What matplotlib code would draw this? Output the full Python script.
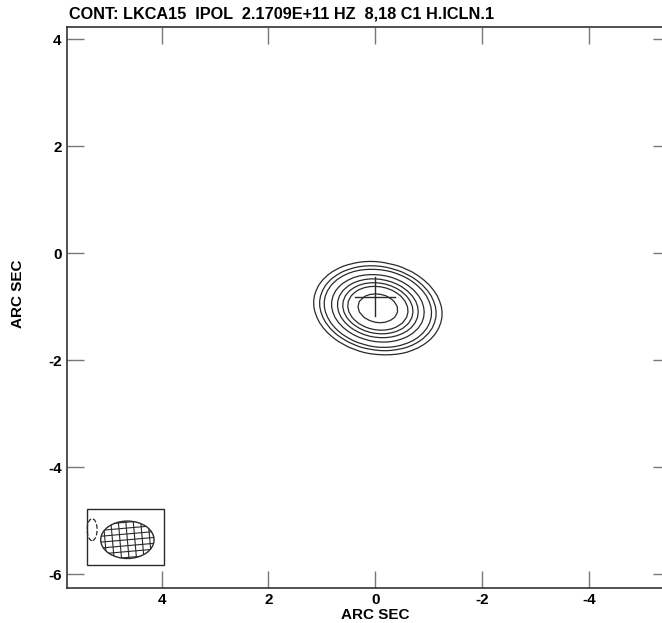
import numpy as np
import matplotlib
matplotlib.use("Agg")
import matplotlib.pyplot as plt
from matplotlib.patches import Ellipse, Rectangle

plt.rcParams['font.family'] = ['Liberation Sans', 'DejaVu Sans']
plt.rcParams['axes.unicode_minus'] = False

# ---- data ----
title = "CONT: LKCA15  IPOL  2.1709E+11 HZ  8,18 C1 H.ICLN.1"
x_ticks = [4, 2, 0, -2, -4]
y_ticks = [4, 2, 0, -2, -4, -6]
x_limits = [5.765, -5.52]
y_limits = [-6.256, 4.236]

# source model (elliptical Gaussian) in arcsec
src_x0, src_y0 = -0.05, -1.03
src_sig_maj, src_sig_min = 0.563, 0.400
src_theta_deg = 10.0
src_peak = 10.0
pos_levels = [1, 1.5, 2, 3, 4, 5, 6, 8]
neg_levels = [-1]

# small negative noise feature near the beam box
neg_x0, neg_y0 = 5.30, -5.17
neg_sig_x, neg_sig_y = 0.09, 0.20
neg_peak = -1.7

# cross marker
cross_x, cross_y = [0.0], [-0.81]
cross_half = 0.37

# beam
beam_x0, beam_y0 = 4.64, -5.36
beam_maj, beam_min, beam_pa = 1.00, 0.70, 0.0
beam_box = [3.96, 5.39, -5.84, -4.78]   # x_right, x_left, y_bottom, y_top
hatch_dx, hatch_dy, hatch_tilt = 0.14, 0.11, 5.0

# ---- model images ----
step = 0.1
gx = np.arange(-6.0, 6.0 + step, step)
gy = np.arange(-6.6, 4.6 + step, step)
X, Y = np.meshgrid(gx, gy)
t = np.deg2rad(src_theta_deg)
u = (X - src_x0) * np.cos(t) + (Y - src_y0) * np.sin(t)
v = -(X - src_x0) * np.sin(t) + (Y - src_y0) * np.cos(t)
Z = src_peak * np.exp(-0.5 * ((u / src_sig_maj) ** 2 + (v / src_sig_min) ** 2))

fstep = 0.03
fx = np.arange(4.6, 5.9, fstep)
fy = np.arange(-5.9, -4.5, fstep)
FX, FY = np.meshgrid(fx, fy)
FZ = neg_peak * np.exp(-0.5 * (((FX - neg_x0) / neg_sig_x) ** 2 + ((FY - neg_y0) / neg_sig_y) ** 2))

fig = plt.figure(figsize=(6.62, 6.23), dpi=100)
ax = fig.add_axes([67.3 / 662, 1 - 587.7 / 623, (670 - 67.3) / 662, (587.7 - 26.7) / 623])

lc = '#2a2a2a'
ax.contour(X, Y, Z, levels=pos_levels, colors=lc, linewidths=0.9)
ax.contour(FX, FY, FZ, levels=neg_levels, colors=lc, linewidths=0.9, linestyles='dashed')

for cx, cy in zip(cross_x, cross_y):
    ax.plot([cx - cross_half, cx + cross_half], [cy, cy], color=lc, lw=1.0)
    ax.plot([cx, cx], [cy - cross_half, cy + cross_half], color=lc, lw=1.0)

# beam box and hatched beam
ax.add_patch(Rectangle((beam_box[0], beam_box[2]), beam_box[1] - beam_box[0],
                       beam_box[3] - beam_box[2], fill=False, ec=lc, lw=1.0))
ell = Ellipse((beam_x0, beam_y0), beam_maj, beam_min, angle=beam_pa,
              fill=False, ec=lc, lw=1.0)
ax.add_patch(ell)
clip = Ellipse((beam_x0, beam_y0), beam_maj, beam_min, angle=beam_pa,
               transform=ax.transData, fill=False, ec='none')
ax.add_patch(clip)
tt = np.deg2rad(hatch_tilt)
for k in np.arange(-5, 6):
    xo = beam_x0 + k * hatch_dx
    ln, = ax.plot([xo - 0.6 * np.sin(tt), xo + 0.6 * np.sin(tt)],
                  [beam_y0 - 0.6 * np.cos(tt), beam_y0 + 0.6 * np.cos(tt)],
                  color=lc, lw=0.8)
    ln.set_clip_path(clip)
for k in np.arange(-5, 6):
    yo = beam_y0 + k * hatch_dy
    ln, = ax.plot([beam_x0 - 0.7 * np.cos(tt), beam_x0 + 0.7 * np.cos(tt)],
                  [yo + 0.7 * np.sin(tt), yo - 0.7 * np.sin(tt)],
                  color=lc, lw=0.8)
    ln.set_clip_path(clip)

ax.set_xlim(*x_limits)
ax.set_ylim(*y_limits)
ax.set_xticks(x_ticks)
ax.set_yticks(y_ticks)
ax.set_xticklabels([str(v) for v in x_ticks], fontweight='bold', fontsize=11)
ax.set_yticklabels([str(v) for v in y_ticks], fontweight='bold', fontsize=11)
ax.tick_params(direction='in', length=12, width=1.0, color='#777777',
               top=True, right=True, pad=4.0)
for s in ax.spines.values():
    s.set_color('#333333')
    s.set_linewidth(1.2)

ax.set_xlabel("ARC SEC", fontweight='bold', fontsize=11)
ax.set_ylabel("ARC SEC", fontweight='bold', fontsize=11)
ax.xaxis.set_label_coords((375 - 67.3) / 602.7, -(608 - 587.7) / 561.0)
ax.yaxis.set_label_coords(-(67.3 - 25) / 602.7, (587.7 - 294) / 561.0)
fig.text(69 / 662, 1 - 14 / 623, title, fontweight='bold', fontsize=11.7,
         ha='left', va='center')

fig.savefig("out.png", dpi=100)
